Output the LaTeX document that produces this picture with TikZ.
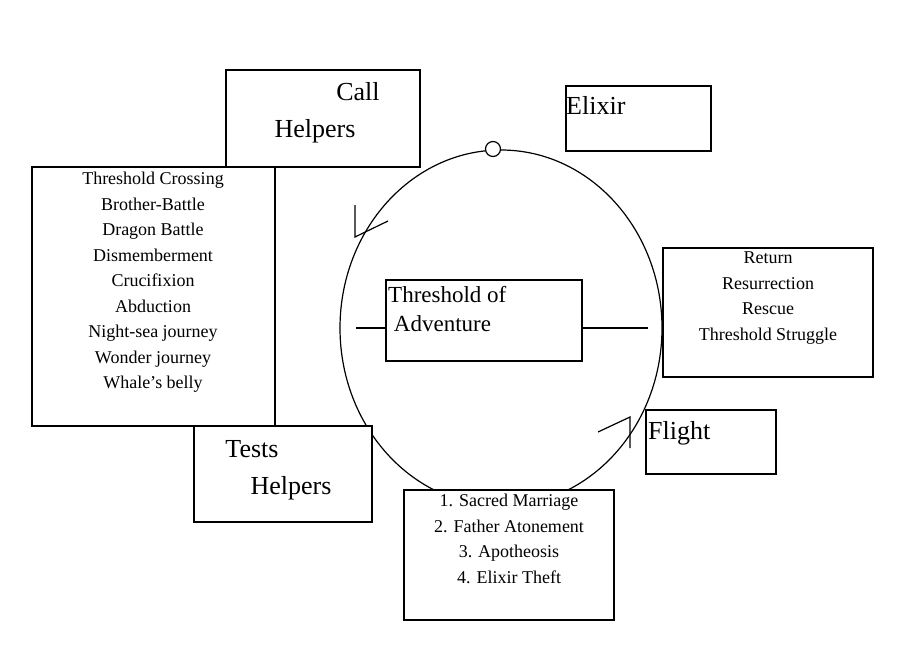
\documentclass[tikz,border=0pt]{standalone}
\usepackage{fontspec}
\setmainfont{Liberation Serif}
\begin{document}
\begin{tikzpicture}[x=1pt,y=-1pt,
  box/.style={draw,line width=1.2pt},
  big/.style={font=\fontsize{26}{28}\selectfont,inner sep=0pt,anchor=base},
  small/.style={font=\fontsize{18}{25.5}\selectfont,align=center,inner sep=0pt,anchor=north},
  ln/.style={line width=1.2pt}]
\useasboundingbox (0,0) rectangle (900,646);
\draw[ln] (501,328) ellipse [x radius=161, y radius=178];
\node[draw,ln,circle,fill=white,minimum size=15pt,inner sep=0pt] (top) at (493,149) {};
% boxes
\draw[box] (226,70) rectangle (420,167);
\node[big] (call) at (358,100) {Call};
\node[big] (helpers1) at (315,137) {Helpers};
\draw[box] (566,86) rectangle (711,151);
\node[big,anchor=base west] (elixir) at (566,114) {Elixir};
\draw[box,fill=white] (32,167) rectangle (275,426);
\node[small] (list1) at (153,172) {Threshold Crossing\\Brother-Battle\\Dragon Battle\\Dismemberment\\Crucifixion\\Abduction\\Night-sea journey\\Wonder journey\\Whale’s belly};
\draw[box,fill=white] (194,426) rectangle (372,522);
\node[big] (tests) at (252,457) {Tests};
\node[big] (helpers2) at (291,494) {Helpers};
\draw[box,fill=white] (386,280) rectangle (582,361);
\node[font=\fontsize{23}{29}\selectfont,align=left,inner sep=0pt,anchor=north west] (thr) at (388,286) {Threshold of\\\ Adventure};
\coordinate (l1) at (356,328); \coordinate (l2) at (386,328);
\coordinate (r1) at (582,328); \coordinate (r2) at (648,328);
\draw[ln] (l1) -- (l2); \draw[ln] (r1) -- (r2);
\draw[box,fill=white] (663,248) rectangle (873,377);
\node[small] (list2) at (768,252) {Return\\Resurrection\\Rescue\\Threshold Struggle};
\draw[box,fill=white] (646,410) rectangle (776,474);
\node[big,anchor=base west] (flight) at (648,439) {Flight};
\draw[box,fill=white] (404,490) rectangle (614,620);
\node[small] (list3) at (509,494) {1. Sacred Marriage\\2. Father Atonement\\3. Apotheosis\\4. Elixir Theft};
% arrowheads
\coordinate (a1) at (355,205); \coordinate (a2) at (355,237); \coordinate (a3) at (388,221);
\draw[ln] (a1) -- (a2) -- (a3);
\coordinate (b1) at (598,432); \coordinate (b2) at (630,417); \coordinate (b3) at (630,448);
\draw[ln] (b1) -- (b2) -- (b3);
\end{tikzpicture}
\end{document}
